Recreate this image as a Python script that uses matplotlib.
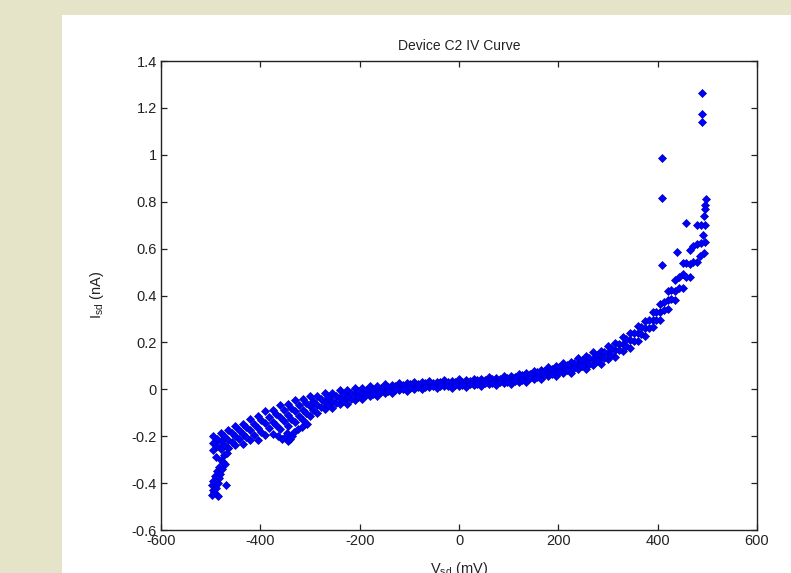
import matplotlib
matplotlib.use("Agg")
import matplotlib.pyplot as plt
from matplotlib.patches import Rectangle

# ---------------- data ----------------
# sweep grid A (mV) with three current readings (nA): upper, middle, lower edge of band
grid_a_mv = [-495, -480, -465, -450, -435, -420, -405, -390, -375, -360, -345, -330,
             -315, -300, -285, -270, -255, -240, -225, -210, -195, -180, -165, -150,
             -135, -120, -105, -90, -75, -60, -45, -30, -15, 0, 15, 30, 45, 60, 75, 90,
             105, 120, 135, 150, 165, 180, 195, 210, 225, 240, 255, 270, 285, 300, 315,
             330, 345, 360, 375, 390, 405, 420, 435, 450, 465, 480, 495]
upper_a_na = [-0.2, -0.185, -0.175, -0.155, -0.146, -0.125, -0.113, -0.093, -0.088, -0.066, -0.061, -0.045,
              -0.043, -0.03, -0.028, -0.016, -0.016, -0.005, -0.005, 0.005, 0.004, 0.013, 0.012, 0.021,
              0.019, 0.027, 0.025, 0.032, 0.029, 0.036, 0.032, 0.039, 0.036, 0.042, 0.039, 0.046, 0.044, 0.052, 0.05, 0.058,
              0.057, 0.067, 0.068, 0.08, 0.083, 0.096, 0.099, 0.112, 0.117, 0.133, 0.14, 0.157, 0.165, 0.185, 0.197,
              0.222, 0.24, 0.27, 0.292, 0.33, 0.362, 0.42, 0.465, 0.54, 0.595, 0.7, 0.785]
middle_a_na = [-0.228, -0.222, -0.215, -0.198, -0.19, -0.172, -0.165, -0.145, -0.138, -0.118, -0.11, -0.094,
               -0.088, -0.072, -0.066, -0.054, -0.048, -0.037, -0.033, -0.022, -0.019, -0.011, -0.008, -0.001,
               0.003, 0.009, 0.01, 0.016, 0.016, 0.02, 0.019, 0.024, 0.022, 0.026, 0.026, 0.03, 0.03, 0.035, 0.035, 0.04,
               0.041, 0.048, 0.051, 0.06, 0.065, 0.075, 0.08, 0.09, 0.095, 0.107, 0.115, 0.13, 0.138, 0.156, 0.168,
               0.192, 0.209, 0.238, 0.26, 0.297, 0.33, 0.38, 0.42, 0.49, 0.535, 0.62, 0.7]
lower_a_na = [-0.26, -0.255, -0.252, -0.236, -0.233, -0.218, -0.216, -0.196, -0.19, -0.168, -0.158, -0.139,
              -0.131, -0.112, -0.103, -0.086, -0.081, -0.064, -0.061, -0.045, -0.043, -0.029, -0.03, -0.016,
              -0.016, -0.005, -0.007, 0.003, 0.0, 0.008, 0.004, 0.012, 0.007, 0.014, 0.01, 0.018, 0.014, 0.022, 0.018, 0.026,
              0.023, 0.033, 0.032, 0.044, 0.045, 0.057, 0.058, 0.07, 0.071, 0.085, 0.088, 0.104, 0.11, 0.129, 0.138,
              0.163, 0.177, 0.206, 0.228, 0.265, 0.297, 0.343, 0.382, 0.433, 0.477, 0.543, 0.627]

# sweep grid B (mV) with two current readings (nA)
grid_b_mv = [-488, -473, -458, -443, -428, -413, -398, -383, -368, -353, -338, -323,
             -308, -293, -278, -263, -248, -233, -218, -203, -188, -173, -158, -143,
             -128, -113, -98, -83, -68, -53, -38, -23, -8, 7, 22, 37, 52, 67, 82, 97,
             112, 127, 142, 157, 172, 187, 202, 217, 232, 247, 262, 277, 292, 307, 322,
             337, 352, 367, 382, 397, 412, 427, 442, 457, 472, 487]
upper_b_na = [-0.212, -0.2, -0.187, -0.173, -0.16, -0.146, -0.131, -0.118, -0.104, -0.09, -0.079, -0.069,
              -0.06, -0.05, -0.042, -0.034, -0.027, -0.021, -0.014, -0.008, -0.003, 0.001, 0.006, 0.011,
              0.015, 0.018, 0.021, 0.023, 0.025, 0.027, 0.029, 0.03, 0.032, 0.033, 0.035, 0.038, 0.041, 0.043, 0.046, 0.049,
              0.053, 0.059, 0.065, 0.072, 0.08, 0.087, 0.095, 0.103, 0.113, 0.123, 0.135, 0.147, 0.16, 0.176, 0.194,
              0.215, 0.238, 0.264, 0.294, 0.329, 0.373, 0.422, 0.477, 0.539, 0.612, 0.701]
lower_b_na = [-0.243, -0.237, -0.225, -0.214, -0.204, -0.193, -0.181, -0.166, -0.152, -0.137, -0.125, -0.113,
              -0.1, -0.088, -0.077, -0.067, -0.057, -0.049, -0.04, -0.033, -0.026, -0.02, -0.013, -0.007,
              -0.003, 0.001, 0.005, 0.008, 0.01, 0.012, 0.014, 0.016, 0.017, 0.019, 0.021, 0.023, 0.025, 0.027, 0.03, 0.032,
              0.036, 0.041, 0.047, 0.053, 0.06, 0.067, 0.074, 0.081, 0.09, 0.099, 0.109, 0.121, 0.134, 0.148, 0.166,
              0.186, 0.208, 0.234, 0.263, 0.297, 0.337, 0.383, 0.43, 0.481, 0.544, 0.624]

# low-bias tail at the negative end
tail_mv = [-498, -496, -495, -493, -491, -490, -488, -486, -485, -483, -481, -480,
           -478, -476, -474, -472, -470, -468, -466, -497, -489, -484]
tail_na = [-0.41, -0.43, -0.39, -0.44, -0.37, -0.42, -0.35, -0.40, -0.455, -0.33, -0.36, -0.30,
           -0.34, -0.31, -0.28, -0.32, -0.41, -0.27, -0.25, -0.45, -0.29, -0.38]

# secondary lower cluster
cluster_mv = [-364, -356, -350, -344, -340, -336, -346, -332, -324, -316, -306]
cluster_na = [-0.2, -0.21, -0.205, -0.22, -0.21, -0.2, -0.185, -0.18, -0.17, -0.16, -0.15]

# high-bias outliers and extra points
outlier_mv = [489, 489, 490, 409, 409, 409, 458, 438, 493, 496, 491, 494, 497, 486]
outlier_na = [1.262, 1.173, 1.139, 0.985, 0.817, 0.53, 0.708, 0.587, 0.74, 0.77, 0.66, 0.58, 0.81, 0.57]

x_ticks = [-600, -400, -200, 0, 200, 400, 600]
y_ticks = [-0.6, -0.4, -0.2, 0, 0.2, 0.4, 0.6, 0.8, 1.0, 1.2, 1.4]
y_tick_labels = ["-0.6", "-0.4", "-0.2", "0", "0.2", "0.4", "0.6", "0.8", "1", "1.2", "1.4"]

# ---------------- figure ----------------
W, H = 791, 573
fig = plt.figure(figsize=(W / 100, H / 100), dpi=100)
fig.patch.set_facecolor("#e5e3c8")
fig.patches.append(Rectangle((62 / W, 0), 1.0, (H - 15) / H, transform=fig.transFigure,
                             facecolor="white", edgecolor="none", zorder=-10))

ax = fig.add_axes([161 / W, (H - 530) / H, (757 - 161) / W, (530 - 61) / H])
ax.set_zorder(5)
ax.set_facecolor("white")

mk = dict(linestyle="none", marker="D", markersize=4.2, color="#0000ff",
          markeredgecolor="#0000c0", markeredgewidth=0.5)
series = [(grid_a_mv, upper_a_na), (grid_a_mv, middle_a_na), (grid_a_mv, lower_a_na),
          (grid_b_mv, upper_b_na), (grid_b_mv, lower_b_na),
          (tail_mv, tail_na), (cluster_mv, cluster_na), (outlier_mv, outlier_na)]
for xs, ys in series:
    ax.plot(xs, ys, **mk)

ax.set_xlim(-600, 600)
ax.set_ylim(-0.6, 1.4)
ax.set_xticks(x_ticks)
ax.set_xticklabels([str(v) for v in x_ticks])
ax.set_yticks(y_ticks)
ax.set_yticklabels(y_tick_labels)

font = "Liberation Sans"
ax.tick_params(direction="in", length=4.5, width=0.9, top=True, right=True,
               labelsize=10.5, pad=3, colors="#222222")
for lab in ax.get_xticklabels() + ax.get_yticklabels():
    lab.set_fontfamily(font)
for s in ax.spines.values():
    s.set_linewidth(1.0)
    s.set_color("#222222")

fig.text(459 / W, 1 - 46 / H, "Device C2 IV Curve", ha="center", va="center",
         fontsize=10, family=font, color="#222222", zorder=6)
fig.text(97 / W, 1 - 295 / H, r"I$_\mathregular{sd}$ (nA)", rotation=90, ha="center",
         va="center", fontsize=10.5, family=font, color="#222222", zorder=6)
fig.text(459 / W, 1 - 560 / H, r"V$_\mathregular{sd}$ (mV)", ha="center", va="top",
         fontsize=10.5, family=font, color="#222222", zorder=6)

fig.savefig("out.png", dpi=100, facecolor=fig.get_facecolor())
